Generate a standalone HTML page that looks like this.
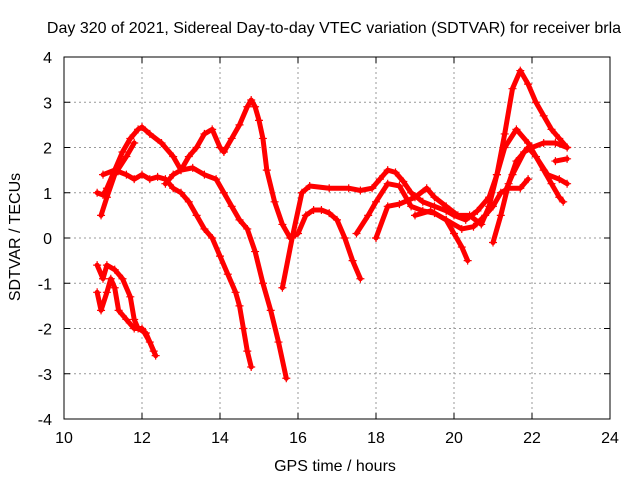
<!DOCTYPE html>
<html><head><meta charset="utf-8"><style>
body{margin:0;background:#fff}
svg{display:block;font-family:"Liberation Sans",sans-serif;font-size:16px}
</style></head><body>
<svg id="chart" width="640" height="480">
<text x="334" y="33" text-anchor="middle">Day 320 of 2021, Sidereal Day-to-day VTEC variation (SDTVAR) for receiver brla</text>
<text x="335" y="471" text-anchor="middle">GPS time / hours</text>
<text transform="translate(20,237) rotate(-90)" text-anchor="middle">SDTVAR / TECUs</text>
<g id="grid"></g><g id="ticks"></g><g id="series"></g>
<rect x="64" y="57" width="546" height="362" fill="none" stroke="#000"/>
</svg>
<script>
const xTicks=[10,12,14,16,18,20,22,24];
const yTicks=[-4,-3,-2,-1,0,1,2,3,4];
const sA=[[10.85,1.0],[11.0,0.95],[11.1,1.1],[11.3,1.5],[11.5,1.9],[11.7,2.2],[11.9,2.4],[12.0,2.45],[12.2,2.3],[12.5,2.1],[12.8,1.8],[13.0,1.5],[13.2,1.8],[13.4,2.0],[13.6,2.3],[13.8,2.4],[14.0,2.0],[14.1,1.9],[14.3,2.2],[14.5,2.5],[14.7,2.9],[14.8,3.05],[14.9,2.9],[15.0,2.6],[15.1,2.2],[15.2,1.5],[15.4,0.8],[15.6,0.3],[15.8,0.0],[16.0,0.1],[16.2,0.5],[16.4,0.62],[16.6,0.62],[16.8,0.55],[17.0,0.4],[17.2,0.0],[17.4,-0.5],[17.6,-0.9]];
const sB=[[11.0,1.4],[11.3,1.5],[11.6,1.4],[11.8,1.3],[12.0,1.4],[12.2,1.3],[12.4,1.35],[12.6,1.3],[12.8,1.1],[13.0,1.0],[13.2,0.8],[13.4,0.5],[13.6,0.2],[13.8,0.0],[14.0,-0.4],[14.2,-0.8],[14.4,-1.2],[14.5,-1.5],[14.6,-2.0],[14.7,-2.5],[14.8,-2.85]];
const sC=[[12.6,1.2],[12.8,1.4],[13.0,1.5],[13.3,1.55],[13.6,1.4],[13.9,1.3],[14.1,1.0],[14.3,0.7],[14.5,0.4],[14.7,0.2],[14.9,-0.3],[15.1,-1.0],[15.3,-1.6],[15.5,-2.3],[15.7,-3.1]];
const sD=[[10.95,0.5],[11.1,0.9],[11.3,1.4],[11.6,1.8],[11.8,2.1]];
const sE=[[10.85,-0.6],[11.0,-0.9],[11.1,-0.6],[11.3,-0.7],[11.5,-0.9],[11.7,-1.3],[11.8,-1.8],[11.9,-2.0],[12.1,-2.1],[12.3,-2.5]];
const sF=[[10.85,-1.2],[10.95,-1.6],[11.1,-1.2],[11.2,-0.9],[11.3,-1.1],[11.4,-1.6],[11.6,-1.8],[11.8,-2.0],[12.0,-2.0],[12.2,-2.3],[12.35,-2.6]];
const sG=[[15.6,-1.1],[15.85,0.0],[16.1,1.0],[16.3,1.15],[16.8,1.1],[17.3,1.1],[17.6,1.05],[17.9,1.1],[18.1,1.3],[18.3,1.5],[18.5,1.45],[18.7,1.25],[18.9,1.0],[19.2,0.8],[19.5,0.7],[19.8,0.6],[20.0,0.5],[20.3,0.4],[20.6,0.6],[20.9,0.9],[21.1,1.4],[21.3,2.3],[21.5,3.3],[21.7,3.7],[21.9,3.4],[22.1,3.0],[22.3,2.7],[22.5,2.4],[22.7,2.2],[22.9,2.0]];
const sH=[[17.5,0.1],[17.8,0.5],[18.0,0.8],[18.3,1.2],[18.6,1.15],[18.9,0.7],[19.2,0.6],[19.5,0.55],[19.8,0.4],[20.0,0.1],[20.2,-0.2],[20.35,-0.5]];
const sI=[[18.0,0.0],[18.3,0.7],[18.6,0.75],[19.0,0.9],[19.3,1.1],[19.5,0.9],[19.8,0.7],[20.1,0.5],[20.4,0.5],[20.7,0.3],[20.9,0.7],[21.1,1.4],[21.3,2.0],[21.6,2.4],[21.9,2.1],[22.1,1.8],[22.4,1.4],[22.7,1.3],[22.9,1.2]];
const sJ=[[19.0,0.5],[19.4,0.6],[19.8,0.4],[20.2,0.2],[20.5,0.25],[20.8,0.5],[21.0,0.7],[21.2,1.0],[21.4,1.1],[21.7,1.1],[21.9,1.3]];
const sK=[[21.0,-0.1],[21.2,0.5],[21.4,1.2],[21.6,1.7],[21.9,2.0],[22.1,1.8],[22.3,1.5],[22.5,1.2],[22.7,0.9],[22.8,0.8]];
const sL=[[21.3,1.0],[21.5,1.4],[21.8,1.9],[22.0,2.0],[22.3,2.1],[22.6,2.1],[22.9,2.0]];
const sN=[[22.6,1.7],[22.9,1.75]];
const allSeries=[sA,sB,sC,sD,sE,sF,sG,sH,sI,sJ,sK,sL,sN];
const NS="http://www.w3.org/2000/svg";
const X=t=>64+(t-10)*546/14, Y=v=>238-v*45.25;
const grid=document.getElementById('grid'),ticks=document.getElementById('ticks'),ser=document.getElementById('series');
function mk(tag,attrs,parent){const e=document.createElementNS(NS,tag);for(const k in attrs)e.setAttribute(k,attrs[k]);parent.appendChild(e);return e;}
xTicks.forEach(t=>{
 if(t>10&&t<24){const g=mk('line',{x1:X(t),x2:X(t),y1:57,y2:419,stroke:'#999','stroke-dasharray':'2,3'},grid);
 
 }
 const l=mk('text',{x:X(t),y:443,'text-anchor':'middle'},ticks);l.textContent=t;
 
 
 mk('line',{x1:X(t),x2:X(t),y1:419,y2:413,stroke:'#000'},ticks);
 mk('line',{x1:X(t),x2:X(t),y1:57,y2:63,stroke:'#000'},ticks);
});
yTicks.forEach(v=>{
 if(v>-4&&v<4){const g=mk('line',{x1:64,x2:610,y1:Y(v),y2:Y(v),stroke:'#999','stroke-dasharray':'2,3'},grid);
 
 }
 const l=mk('text',{x:52,y:Y(v)+6,'text-anchor':'end'},ticks);l.textContent=v;
 
 
 mk('line',{x1:64,x2:70,y1:Y(v),y2:Y(v),stroke:'#000'},ticks);
 mk('line',{x1:610,x2:604,y1:Y(v),y2:Y(v),stroke:'#000'},ticks);
});
allSeries.forEach((s,i)=>{
 const p=mk('polyline',{points:s.map(d=>X(d[0])+','+Y(d[1])).join(' '),fill:'none',stroke:'#f00','stroke-width':5,'stroke-linejoin':'round','stroke-linecap':'round'},ser);
 
 
 s.forEach(d=>{const x=X(d[0]),y=Y(d[1]);
  const m=mk('path',{d:`M${x-4},${y}h8M${x},${y-4}v8`,stroke:'#f00','stroke-width':1.2},ser);
  
  
 });
});
</script>
</body></html>
